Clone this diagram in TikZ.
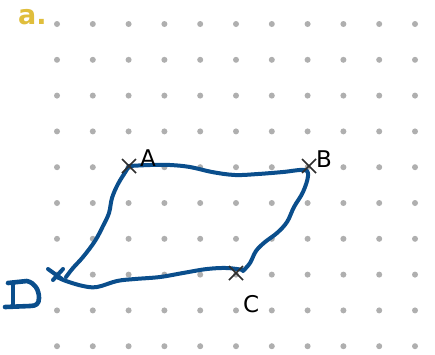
\documentclass[tikz,border=0pt]{standalone}
\usepackage{fontspec}
\setmainfont{DejaVu Sans}
\usetikzlibrary{calc}
\definecolor{dotgray}{RGB}{175,175,175}
\definecolor{penblue}{RGB}{10,78,140}
\definecolor{labelyellow}{RGB}{224,190,60}
\definecolor{crossgray}{RGB}{45,45,45}
\tikzset{
  griddot/.style={fill=dotgray,draw=none},
  pen/.style={draw=penblue,line width=4pt,line cap=round,line join=round},
  dpen/.style={draw=penblue,line width=4.6pt,line cap=round,line join=round},
  crossmark/.style={draw=crossgray,line width=1.5pt},
  ptlabel/.style={anchor=base west,inner sep=0pt,font=\fontsize{23}{25}\selectfont,text=black}
}
\begin{document}
\begin{tikzpicture}[x=1pt,y=-1pt]
\useasboundingbox (0,0) rectangle (435,354);
\fill[white] (0,0) rectangle (435,354);
% dot grid
\foreach \i in {0,...,10}{
  \foreach \j in {0,...,9}{
    \fill[griddot] ({57+35.8*\i},{24+35.8*\j}) circle (3);
  }
}
% title
\node[anchor=base west,inner sep=0pt,text=labelyellow,font=\fontsize{27}{29}\selectfont\bfseries] (title) at (18,24) {a.};
% points
\coordinate (A) at (129,166);
\coordinate (B) at (309,166);
\coordinate (C) at (236,273);
\coordinate (D) at (56,275);
% curve
\draw[pen] plot[smooth,tension=0.6] coordinates {
  (A) (150,165) (170,165) (190,167) (212,172) (235,175) (258,174) (283,172) (304,170)
  (308,176) (303,192) (294,207) (287,222) (277,233) (265,242) (256,251) (250,263) (243,271)};
\draw[pen] plot[smooth,tension=0.6] coordinates {
  (243,270) (227,268) (207,269) (183,273) (160,277) (135,279) (117,281) (97,287) (83,286) (66,281) (57,277)};
\draw[pen] plot[smooth,tension=0.6] coordinates {
  (66,277) (73,268) (83,257) (95,241) (103,226) (109,213) (112,198) (118,184) (126,171) (A)};
% D cross mark
\draw[pen] (48,269) -- (62,279);
\draw[pen] (53,280) -- (63,269);
% hand-drawn D
\draw[dpen] (8,283) -- (27,281) .. controls (35,283) and (39,290) .. (39,298) .. controls (39,304) and (36,306) .. (30,306) -- (5,307);
\draw[dpen] (13,283) -- (13,305);
% crosses
\foreach \p in {A,B,C}{
  \draw[crossmark] ($(\p)+(-7,-7)$) -- ($(\p)+(7,7)$);
  \draw[crossmark] ($(\p)+(-7,7)$) -- ($(\p)+(7,-7)$);
}
% labels
\node[ptlabel] (lA) at (140,166) {A};
\node[ptlabel] (lB) at (316,167) {B};
\node[ptlabel] (lC) at (243,312) {C};
\end{tikzpicture}
\end{document}
